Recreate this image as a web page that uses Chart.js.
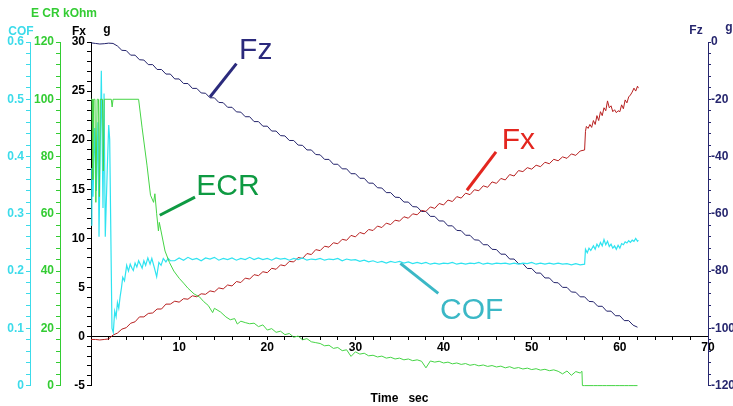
<!DOCTYPE html>
<html>
<head>
<meta charset="utf-8">
<script src="https://cdn.jsdelivr.net/npm/chart.js@4.4.1/dist/chart.umd.min.js"></script>
<style>
body{margin:0;background:#fff}
canvas{display:block}
</style>
</head>
<body>
<canvas id="chartCanvas" width="733" height="406"></canvas>
<script>
// sample grid, seconds
var time = [0,0.5,1,1.5,2,2.5,3,3.5,4,4.5,5,5.5,6,6.5,7,7.5,8,8.5,9,9.5,
	10,10.5,11,11.5,12,12.5,13,13.5,14,14.5,15,15.5,16,16.5,17,17.5,18,18.5,19,19.5,
	20,20.5,21,21.5,22,22.5,23,23.5,24,24.5,25,25.5,26,26.5,27,27.5,28,28.5,29,29.5,
	30,30.5,31,31.5,32,32.5,33,33.5,34,34.5,35,35.5,36,36.5,37,37.5,38,38.5,39,39.5,
	40,40.5,41,41.5,42,42.5,43,43.5,44,44.5,45,45.5,46,46.5,47,47.5,48,48.5,49,49.5,
	50,50.5,51,51.5,52,52.5,53,53.5,54,54.5,55,55.5,56,56.5,57,57.5,58,58.5,59,59.5,
	60,60.5,61,61.5,62]

// Fz (g), right axis
var fz = [-0.3,-0.5,-0.7,-0.6,-0.4,-0.5,-1.4,-2.9,-3.0,-4.6,-4.6,-6.2,-6.3,-7.9,-7.9,-9.6,-9.6,-11.2,-11.2,-12.9,
	-12.9,-14.5,-14.5,-16.2,-16.2,-17.8,-17.9,-19.5,-19.5,-21.1,-21.2,-22.8,-22.8,-24.4,-24.5,-26.1,-26.1,-27.8,-27.8,-29.4,
	-29.4,-31.1,-31.1,-32.7,-32.8,-34.4,-34.4,-36.0,-36.1,-37.7,-37.7,-39.3,-39.4,-41.0,-41.0,-42.7,-42.7,-44.3,-44.3,-46.0,
	-46.0,-47.6,-47.6,-49.3,-49.3,-50.9,-51.0,-52.6,-52.6,-54.2,-54.3,-55.9,-55.9,-57.5,-57.6,-59.2,-59.2,-60.9,-60.9,-62.5,
	-62.5,-64.2,-64.2,-65.8,-65.9,-67.5,-67.5,-69.1,-69.2,-70.8,-70.8,-72.4,-72.5,-74.1,-74.1,-75.8,-75.8,-77.4,-77.4,-79.1,
	-79.1,-80.7,-80.7,-82.4,-82.4,-84.0,-84.1,-85.7,-85.7,-87.3,-87.4,-89.0,-89.0,-90.6,-90.7,-92.3,-92.3,-94.0,-94.0,-95.6,
	-95.6,-97.3,-97.3,-98.9,-99.6]

// Fx (g), left axis; after 56 s see fxJump
var fx = [-0.3,-0.3,-0.35,-0.3,-0.25,0.15,0.35,0.75,0.9,1.35,1.5,2.0,2.0,2.35,2.4,2.8,2.8,3.3,3.3,3.6,
	3.5,3.85,3.8,4.15,4.05,4.35,4.3,4.65,4.55,4.95,4.85,5.25,5.15,5.6,5.5,5.95,5.85,6.3,6.2,6.6,
	6.5,6.95,6.85,7.3,7.2,7.65,7.6,8.05,7.95,8.45,8.35,8.85,8.75,9.2,9.1,9.55,9.45,9.9,9.8,10.3,
	10.15,10.6,10.45,10.9,10.8,11.25,11.1,11.55,11.4,11.85,11.75,12.2,12.05,12.5,12.4,12.85,12.75,13.2,13.05,13.55,
	13.4,13.9,13.75,14.25,14.1,14.6,14.45,14.95,14.85,15.35,15.2,15.75,15.6,16.1,15.95,16.5,16.35,16.9,16.8,17.2,
	17.05,17.45,17.3,17.75,17.6,18.05,17.9,18.3,18.15,18.6,18.45,18.9,19.0,null,null,null,null,null,null,null,
	null,null,null,null,null]
var fxJumpTime = [56.1,56.2,56.4,56.6,56.8,57.0,57.2,57.4,57.6,57.8,58.0,58.2,58.4,58.6,58.8,59.0,59.2,59.4,59.6,59.8,
	60.0,60.2,60.4,60.6,60.8,61.0,61.2,61.4,61.6,61.8,62.0,62.1]
var fxJump = [20.9,21.4,21.2,21.6,21.3,22.0,21.6,22.5,22.0,22.9,22.5,23.3,23.0,24.0,23.3,23.5,22.9,23.1,22.8,23.0,
	22.9,23.6,23.2,24.1,23.8,24.4,24.6,24.9,25.3,25.0,25.5,25.3]

// COF, outer left axis
var cof = [null,null,null,null,null,null,null,null,null,null,null,null,null,null,null,null,null,null,null,0.218,
	0.223,0.219,0.224,0.220,0.222,0.218,0.223,0.221,0.224,0.219,0.222,0.220,0.223,0.219,0.222,0.220,0.224,0.220,0.223,0.220,
	0.222,0.219,0.223,0.221,0.222,0.219,0.222,0.220,0.223,0.219,0.221,0.220,0.222,0.219,0.221,0.220,0.222,0.218,0.221,0.219,
	0.220,0.217,0.219,0.216,0.218,0.215,0.217,0.214,0.217,0.215,0.217,0.214,0.216,0.213,0.215,0.213,0.215,0.212,0.214,0.212,
	0.214,0.213,0.215,0.212,0.214,0.212,0.214,0.213,0.215,0.212,0.214,0.212,0.214,0.213,0.214,0.212,0.214,0.212,0.214,0.213,
	0.215,0.212,0.214,0.212,0.214,0.212,0.214,0.212,0.213,0.211,0.213,0.211,0.212,null,null,null,null,null,null,null,
	null,null,null,null,null]
var cofStartTime = [0,0.1,0.23,0.42,0.6,0.79,0.91,1.17,1.36,1.48,1.62,1.85,2.01,2.12,2.38,2.53,2.69,2.85,3.0,3.15,
	3.3,3.45,3.6,3.8,4.05,4.25,4.45,4.65,4.8,5.0,5.2,5.4,5.56,5.8,6.0,6.2,6.45,6.7,6.9,7.2,
	7.45,7.7,7.95,8.2,8.5,8.75,9.0]
var cofStart = [0.28,0.38,0.33,0.45,0.34,0.46,0.26,0.55,0.31,0.51,0.26,0.38,0.455,0.43,0.10,0.093,0.13,0.12,0.145,0.135,
	0.155,0.17,0.189,0.183,0.21,0.2,0.212,0.205,0.201,0.214,0.207,0.218,0.213,0.205,0.218,0.21,0.223,0.212,0.222,0.205,
	0.19,0.215,0.21,0.222,0.216,0.222,0.218]
var cofEndTime = [56.1,56.3,56.5,56.7,57.0,57.2,57.4,57.6,57.8,58.0,58.2,58.4,58.6,58.8,59.0,59.2,59.4,59.6,59.8,60.0,
	60.2,60.4,60.6,60.8,61.0,61.2,61.4,61.6,61.8,62.0,62.1]
var cofEnd = [0.238,0.232,0.240,0.236,0.244,0.238,0.247,0.242,0.250,0.244,0.255,0.246,0.252,0.243,0.247,0.240,0.244,0.238,0.245,0.240,
	0.248,0.246,0.251,0.249,0.253,0.250,0.254,0.252,0.257,0.252,0.254]

// ECR kOhm, middle left axis
var ecr = [null,null,null,null,null,null,null,null,null,null,null,null,null,null,null,null,null,null,null,null,
	null,null,null,null,null,null,null,null,null,null,null,null,null,null,null,null,null,21.8,20.6,21.2,
	19.4,19.9,18.6,19.0,17.8,18.2,16.9,17.3,16.0,16.4,15.3,15.0,14.7,13.9,14.1,13.0,13.3,12.2,12.5,10.2,
	11.8,11.0,11.3,10.4,10.6,10.0,10.3,9.6,9.9,9.3,9.6,9.0,9.3,8.7,9.0,8.5,6.2,8.6,8.2,8.5,
	7.9,8.2,7.6,7.9,7.4,7.7,7.1,7.4,6.9,7.2,6.7,7.0,6.5,6.8,6.2,6.6,6.0,6.3,5.8,6.1,
	5.6,5.9,5.4,5.7,5.2,5.5,5.0,4.1,5.1,3.6,4.9,4.4,0,0,0,0,0,0,0,0,
	0,0,0,0,0]
var ecrStartTime = [0,0.12,0.2,0.3,0.45,0.55,0.7,0.85,0.95,1.05,1.3,1.4,1.5,2.3,2.4,2.5,5.4,5.8,6.35,6.75,
	7.1,7.25,7.45,7.65,7.75,8.4,8.9,9.4,10,10.5,11,11.7,12.3,12.8,13.3,13.8,14,14.7,15.3,15.8,
	16.3,16.6,17,17.5,18]
var ecrStart = [100,100,72,100,100,64,100,100,66,100,100,75,100,100,97.3,100,100,90,77,66.5,
	64,67,60,54,57,47,43,40,37.5,35.8,34,32,31,29.3,28,25.5,27,25.7,24,23,
	23.4,21.5,22.5,22,21.6]
var ecrEndTime = [55.7,55.75]
var ecrEnd = [5.0,0]

// big labels with their leader lines, in (time, Fx) units
var callouts = [
	{text:'Fz', color:'#2b2a7c', t0:13.5, v0:24.4, t1:16.5, v1:27.8, tx:16.8, ty:28.3},
	{text:'ECR', color:'#0e9a42', t0:7.8, v0:12.35, t1:11.8, v1:14.2, tx:11.95, ty:14.4},
	{text:'Fx', color:'#e3261f', t0:42.65, v0:14.9, t1:45.95, v1:18.8, tx:46.6, ty:19.15},
	{text:'COF', color:'#3bb8c6', t0:35.1, v0:7.45, t1:39.4, v1:4.4, tx:39.6, ty:1.8}
]

var FONT = '"Liberation Sans", Arial, sans-serif'
var CYAN = '#3cdbea', GREEN = '#33cc33', NAVY = '#26266e'

function points(values, extraT, extraV){
	var pts = []
	time.forEach(function(t, i){
		if(values[i] !== null) pts.push({x:t, y:values[i]})
	})
	if(extraT){
		extraT.forEach(function(t, i){ pts.push({x:t, y:extraV[i]}) })
	}
	pts.sort(function(a, b){ return a.x - b.x })
	return pts
}

function sideAxis(pos, weight, width, min, max, step, color, every, tickLen, pad){
	return {
		type:'linear', position:pos, weight:weight, min:min, max:max,
		afterFit:function(s){ s.width = width },
		border:{color:color, width:1},
		grid:{drawOnChartArea:false, color:color, tickLength:tickLen},
		ticks:{
			stepSize:step, autoSkip:false, padding:pad, color:color,
			font:{family:FONT, size:12, weight:'bold'},
			callback:function(v){
				var k = v / every
				if(Math.abs(k - Math.round(k)) > 1e-6) return ''
				return every < 1 ? (v === 0 ? '0' : v.toFixed(1)) : String(v)
			}
		}
	}
}

var overlay = {
	id:'overlay',
	afterDraw:function(chart){
		var ctx = chart.ctx, sx = chart.scales.x, sy = chart.scales.y
		ctx.save()
		// axis captions
		ctx.font = 'bold 12px ' + FONT
		ctx.textAlign = 'center'
		ctx.textBaseline = 'middle'
		ctx.fillStyle = CYAN; ctx.fillText('COF', 21, 32)
		ctx.fillStyle = GREEN; ctx.fillText('E CR kOhm', 64, 14)
		ctx.fillStyle = '#000'; ctx.fillText('Fx', 79, 32); ctx.fillText('g', 107, 30)
		ctx.fillStyle = NAVY; ctx.fillText('Fz', 696, 31); ctx.fillText('g', 729, 28)
		// callouts
		ctx.textAlign = 'left'
		ctx.textBaseline = 'alphabetic'
		ctx.font = '30px ' + FONT
		callouts.forEach(function(c){
			ctx.strokeStyle = c.color
			ctx.lineWidth = 3
			ctx.beginPath()
			ctx.moveTo(sx.getPixelForValue(c.t0), sy.getPixelForValue(c.v0))
			ctx.lineTo(sx.getPixelForValue(c.t1), sy.getPixelForValue(c.v1))
			ctx.stroke()
			ctx.fillStyle = c.color
			ctx.fillText(c.text, sx.getPixelForValue(c.tx), sy.getPixelForValue(c.ty))
		})
		ctx.restore()
	}
}

var ctx = document.getElementById('chartCanvas').getContext('2d')
var chart = new Chart(ctx, {
	type:'line',
	data:{
		datasets:[
			{label:'ECR', data:points(ecr, ecrStartTime.concat(ecrEndTime), ecrStart.concat(ecrEnd)), yAxisID:'ecr',
				borderColor:'#45d445', borderWidth:1, pointRadius:0, clip:false},
			{label:'COF', data:points(cof, cofStartTime.concat(cofEndTime), cofStart.concat(cofEnd)), yAxisID:'cof',
				borderColor:'#2fe3f0', borderWidth:1.2, pointRadius:0, clip:false},
			{label:'Fx', data:points(fx, fxJumpTime, fxJump), yAxisID:'y',
				borderColor:'#b71f1f', borderWidth:1, pointRadius:0, clip:false},
			{label:'Fz', data:points(fz), yAxisID:'fz',
				borderColor:'#23236b', borderWidth:1, pointRadius:0, clip:false}
		]
	},
	options:{
		responsive:false,
		animation:false,
		layout:{padding:{top:42, left:0, right:0, bottom:0}},
		plugins:{
			legend:{display:false},
			tooltip:{enabled:false},
			title:{
				display:true, text:'Time   sec', position:'bottom', fullSize:false,
				color:'#000', font:{family:FONT, size:12, weight:'bold'},
				padding:{top:6, bottom:0}
			}
		},
		scales:{
			x:{
				type:'linear', position:{y:0}, min:0, max:70,
				afterFit:function(s){ s.height = 0 },
				border:{color:'#000', width:1},
				grid:{drawOnChartArea:false, color:'#000', tickLength:3},
				ticks:{
					stepSize:2, autoSkip:false, maxRotation:0, padding:1, color:'#000',
					font:{family:FONT, size:12, weight:'bold'},
					callback:function(v){ return (v % 10 === 0 && v !== 0) ? String(v) : '' }
				}
			},
			y:sideAxis('left', 1, 31, -5, 30, 1, '#000', 5, 4, 2),
			ecr:sideAxis('left', 2, 30, 0, 120, 4, GREEN, 20, 4, 2),
			cof:sideAxis('left', 3, 30, 0, 0.6, 0.02, CYAN, 0.1, 4, 2),
			fz:sideAxis('right', 1, 25, -120, 0, 4, NAVY, 20, 3, 0)
		}
	},
	plugins:[overlay]
})
</script>
</body>
</html>
